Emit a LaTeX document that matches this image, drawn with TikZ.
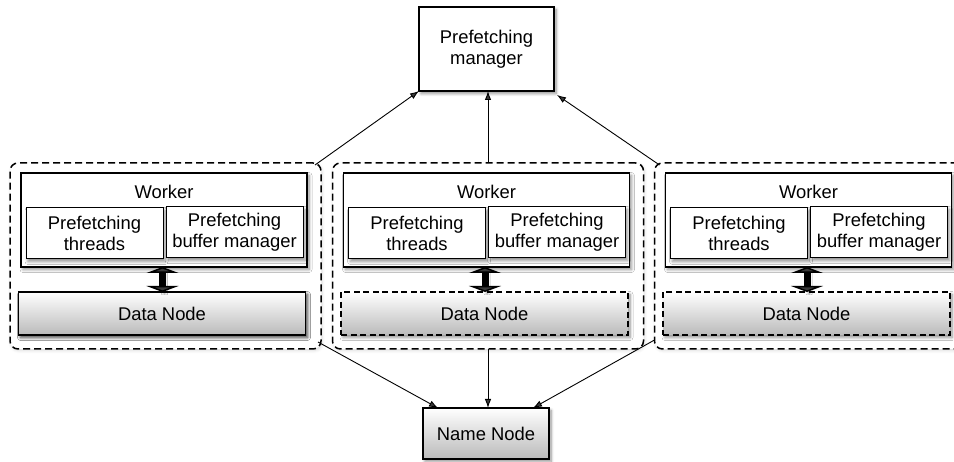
\documentclass[tikz,border=0pt]{standalone}
\usepackage{fontspec}
\setmainfont{Liberation Sans}
\usetikzlibrary{arrows.meta,shadows.blur}

\tikzset{
  softshadow/.style={blur shadow={shadow xshift=2pt, shadow yshift=-2.5pt,
      shadow blur steps=6, shadow blur radius=3pt, shadow opacity=45}},
  plainbox/.style={draw, line width=1.2pt, fill=white, inner sep=0pt, outer sep=0pt,
      align=center, softshadow},
  innerbox/.style={plainbox, line width=1pt, minimum width=137pt, minimum height=51pt},
  workerbox/.style={plainbox, minimum width=286pt, minimum height=94pt},
  databox/.style={draw, line width=1.2pt, inner sep=0pt, outer sep=0pt,
      top color=white, bottom color=black!27, softshadow,
      minimum width=287pt, minimum height=43pt},
  groupbox/.style={draw=black, fill=white, line width=1.5pt, dash pattern=on 7pt off 4pt,
      rounded corners=8pt, inner sep=0pt, outer sep=0pt,
      minimum width=311pt, minimum height=186pt,
      blur shadow={shadow xshift=1pt, shadow yshift=-1.5pt, shadow blur steps=5,
      shadow blur radius=3pt, shadow opacity=15}},
  link/.style={line width=0.9pt, -{Latex[length=9pt,width=6.5pt]}},
  fatlink/.style={line width=7pt,
      {Triangle[width=32pt,length=6pt]}-{Triangle[width=32pt,length=6pt]}},
}

\begin{document}
\begin{tikzpicture}[x=1pt, y=-1pt, font=\fontsize{18.4pt}{21pt}\selectfont]
  \useasboundingbox (0,0) rectangle (954,462);
  \clip (0,0) rectangle (954,462);

  % coordinator at the top
  \node[plainbox, minimum width=135pt, minimum height=84pt] (pm) at (486.5,49)
       {Prefetching\\manager};

  % the three worker groups
  \foreach \i/\cx/\dstyle in {1/165.5/solid, 2/488/dashed, 3/810/dashed}{
    \node[groupbox] (g\i) at (\cx,256) {};
    \node[workerbox] (w\i) at ([shift={(-1.5,-36)}]g\i.center) {};
    \node (wl\i) at ([shift={(0,-28)}]w\i.center) {Worker};
    \node[innerbox] (t\i) at ([shift={(-69.5,13.5)}]w\i.center) {Prefetching\\threads};
    \node[innerbox] (b\i) at ([shift={(70.5,12.5)}]w\i.center) {Prefetching\\buffer manager};
    \node[databox, \dstyle, dash pattern=on 6pt off 3.5pt] (d\i) at ([shift={(-3.5,57.5)}]g\i.center) {Data Node};
  }
  % the first data node has a solid frame
  \node[databox] (d1) at ([shift={(-3.5,57.5)}]g1.center) {Data Node};

  \foreach \i in {1,2,3}{
    \draw[fatlink, softshadow] ([xshift=-1.5pt]w\i.south) -- ([xshift=-1.5pt]w\i.south |- d\i.north);
  }

  % name service at the bottom
  \node[databox, minimum width=126pt, minimum height=51pt] (nn) at (486,433.5) {Name Node};

  % reports to the prefetching manager
  \draw[link] ([shift={(-6,2)}]g1.north east) -- (pm.south west);
  \draw[link] (g2.north) -- (g2.north |- pm.south);
  \draw[link] ([shift={(5,2)}]g3.north west) -- ([shift={(3,4)}]pm.south east);

  % requests to the name node
  \draw[link] ([shift={(-3,-7)}]g1.south east) -- ([xshift=15pt]nn.north west);
  \draw[link] (g2.south) -- (g2.south |- nn.north);
  \draw[link] ([shift={(0,-9)}]g3.south west) -- ([xshift=-16pt]nn.north east);
\end{tikzpicture}
\end{document}
